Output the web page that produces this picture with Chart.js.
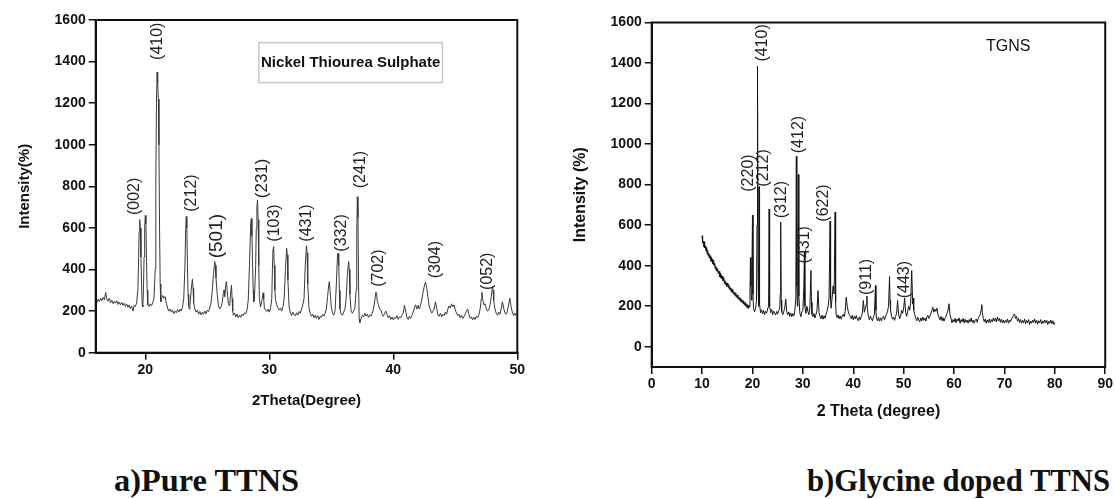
<!DOCTYPE html>
<html>
<head>
<meta charset="utf-8">
<script src="https://cdn.jsdelivr.net/npm/chart.js@4.4.1/dist/chart.umd.min.js"></script>
<style>
  html, body { margin: 0; padding: 0; background: #fff; }
  body { width: 1115px; height: 499px; position: relative; overflow: hidden; }
  .box { position: absolute; }
  #boxA { left: 0; top: 0; width: 560px; height: 420px; }
  #boxB { left: 560px; top: 0; width: 555px; height: 430px; }
  .cap { position: absolute; font-family: "Liberation Serif", "Times New Roman", serif; font-weight: bold;
         font-size: 31px; line-height: 31px; color: #111; white-space: nowrap; transform-origin: 0 0; }
</style>
</head>
<body>
<div class="box" id="boxA"><canvas id="chartA"></canvas></div>
<div class="box" id="boxB"><canvas id="chartB"></canvas></div>
<div class="cap" id="capA" style="left:114px; top:465px;">a)Pure TTNS</div>
<div class="cap" id="capB" style="left:807px; top:465px;">b)Glycine doped TTNS</div>

<script>
// ---- data: pure TTNS (2theta, intensity) ----
const pureTTNS = [
  [16.0,252],[16.1,240],[16.2,258],[16.3,246],[16.4,262],[16.5,250],[16.6,266],[16.7,255],[16.8,290],[16.9,258],
  [17.0,248],[17.1,262],[17.2,240],[17.3,252],[17.4,236],[17.5,248],[17.6,238],[17.7,250],[17.8,232],[17.9,244],
  [18.0,230],[18.1,242],[18.2,228],[18.3,238],[18.4,222],[18.5,234],[18.6,218],[18.7,230],[18.8,212],[18.9,224],
  [19.0,200],[19.1,228],[19.2,222],[19.3,240],[19.4,300],[19.45,420],[19.5,580],[19.55,640],[19.6,600],[19.65,460],
  [19.7,320],[19.75,230],[19.8,220],[19.85,300],[19.9,460],[19.95,600],[20.0,660],[20.05,620],[20.1,440],[20.15,300],
  [20.2,230],[20.3,222],[20.4,235],[20.5,226],[20.6,240],[20.7,262],[20.8,400],[20.85,800],[20.9,1200],[20.95,1350],
  [21.0,1300],[21.05,1220],[21.1,1000],[21.15,600],[21.2,330],[21.25,245],[21.3,260],[21.4,275],[21.5,262],[21.6,270],
  [21.7,238],[21.8,215],[21.9,200],[22.0,210],[22.1,195],[22.2,205],[22.3,188],[22.4,200],[22.5,192],[22.6,208],
  [22.7,195],[22.8,210],[22.9,200],[23.0,220],[23.1,260],[23.2,420],[23.25,580],[23.3,655],[23.35,600],[23.4,420],
  [23.45,280],[23.5,225],[23.55,210],[23.6,230],[23.7,300],[23.8,355],[23.85,310],[23.9,240],[24.0,210],[24.1,195],
  [24.2,205],[24.3,185],[24.4,198],[24.5,182],[24.6,195],[24.7,185],[24.8,200],[24.9,188],[25.0,205],[25.1,198],
  [25.2,215],[25.3,240],[25.4,300],[25.5,380],[25.6,438],[25.65,420],[25.7,360],[25.8,280],[25.9,225],[26.0,210],
  [26.1,220],[26.2,240],[26.3,290],[26.35,302],[26.4,270],[26.5,330],[26.55,342],[26.6,300],[26.7,235],[26.8,225],
  [26.9,300],[26.95,325],[27.0,260],[27.05,200],[27.1,180],[27.2,190],[27.3,172],[27.4,185],[27.5,168],[27.6,180],
  [27.7,170],[27.8,185],[27.9,178],[28.0,192],[28.1,188],[28.2,205],[28.3,250],[28.4,420],[28.5,620],[28.55,645],
  [28.6,560],[28.7,300],[28.75,245],[28.8,260],[28.9,420],[28.95,600],[29.0,700],[29.05,735],[29.1,640],[29.15,420],
  [29.2,260],[29.3,220],[29.4,250],[29.5,288],[29.55,260],[29.6,215],[29.7,205],[29.8,198],[29.9,210],[30.0,195],
  [30.1,215],[30.2,260],[30.25,400],[30.3,500],[30.35,510],[30.4,420],[30.45,300],[30.5,255],[30.6,230],[30.7,215],
  [30.8,205],[30.9,215],[31.0,200],[31.1,222],[31.2,260],[31.3,400],[31.4,502],[31.45,470],[31.5,350],[31.6,220],
  [31.7,190],[31.8,178],[31.9,195],[32.0,182],[32.1,178],[32.2,192],[32.3,180],[32.4,198],[32.5,190],[32.6,210],
  [32.7,230],[32.8,260],[32.9,420],[33.0,515],[33.05,480],[33.1,330],[33.2,215],[33.3,190],[33.4,175],[33.5,185],
  [33.6,168],[33.7,180],[33.8,165],[33.9,178],[34.0,160],[34.1,175],[34.2,170],[34.3,185],[34.4,176],[34.5,190],
  [34.6,210],[34.7,270],[34.8,330],[34.85,342],[34.9,300],[35.0,220],[35.1,190],[35.2,180],[35.3,200],[35.4,320],
  [35.5,470],[35.55,478],[35.6,420],[35.65,300],[35.7,210],[35.8,185],[35.9,180],[36.0,195],[36.1,210],[36.2,260],
  [36.3,380],[36.4,438],[36.45,400],[36.5,280],[36.6,200],[36.7,190],[36.8,200],[36.9,215],[37.0,300],[37.05,550],
  [37.1,750],[37.15,650],[37.2,320],[37.25,160],[37.3,145],[37.4,165],[37.5,180],[37.6,172],[37.7,190],[37.8,176],
  [37.9,185],[38.0,170],[38.1,182],[38.2,175],[38.3,190],[38.4,210],[38.5,250],[38.6,292],[38.65,285],[38.7,250],
  [38.8,230],[38.9,210],[39.0,205],[39.1,185],[39.2,175],[39.3,190],[39.4,200],[39.5,182],[39.6,168],[39.7,178],
  [39.8,160],[39.9,172],[40.0,158],[40.1,170],[40.2,165],[40.3,178],[40.4,160],[40.5,172],[40.6,168],[40.7,182],
  [40.8,190],[40.9,228],[41.0,200],[41.1,170],[41.2,160],[41.3,176],[41.4,165],[41.5,180],[41.6,195],[41.7,215],
  [41.8,230],[41.9,210],[42.0,228],[42.1,210],[42.2,230],[42.3,255],[42.4,290],[42.5,320],[42.6,340],[42.7,310],
  [42.8,265],[42.9,220],[43.0,205],[43.1,190],[43.2,200],[43.3,210],[43.4,245],[43.5,215],[43.6,180],[43.7,175],
  [43.8,190],[43.9,172],[44.0,185],[44.1,178],[44.2,195],[44.3,185],[44.4,210],[44.5,225],[44.6,215],[44.7,235],
  [44.8,220],[44.9,230],[45.0,205],[45.1,190],[45.2,178],[45.3,185],[45.4,168],[45.5,180],[45.6,165],[45.7,175],
  [45.8,185],[45.9,200],[46.0,210],[46.1,185],[46.2,165],[46.3,172],[46.4,158],[46.5,170],[46.6,160],[46.7,175],
  [46.8,168],[46.9,182],[47.0,210],[47.1,260],[47.15,290],[47.2,260],[47.3,230],[47.4,235],[47.5,210],[47.6,200],
  [47.7,205],[47.8,230],[47.9,270],[48.0,318],[48.05,300],[48.1,250],[48.2,210],[48.3,190],[48.4,180],[48.5,195],
  [48.6,185],[48.7,210],[48.8,245],[48.9,215],[49.0,190],[49.1,185],[49.2,200],[49.3,230],[49.4,262],[49.5,220],
  [49.6,195],[49.7,178],[49.8,190],[49.9,180],[50.0,188]
];

// ---- data: glycine doped TTNS (2theta, intensity) ----
const glycineTTNS = [
  [10.0,548],[10.1,512],[10.2,520],[10.3,495],[10.4,518],[10.5,488],[10.6,498],[10.7,480],[10.8,472],[10.9,490],
  [11.0,458],[11.1,476],[11.2,450],[11.3,462],[11.4,438],[11.5,455],[11.6,446],[11.7,425],[11.8,440],[11.9,418],
  [12.0,432],[12.1,410],[12.2,426],[12.3,404],[12.4,400],[12.5,412],[12.6,384],[12.7,398],[12.8,376],[12.9,390],
  [13.0,370],[13.1,384],[13.2,362],[13.3,360],[13.4,372],[13.5,346],[13.6,362],[13.7,340],[13.8,352],[13.9,336],
  [14.0,348],[14.1,326],[14.2,330],[14.3,342],[14.4,314],[14.5,328],[14.6,306],[14.7,320],[14.8,312],[14.9,298],
  [15.0,314],[15.1,300],[15.2,292],[15.3,306],[15.4,284],[15.5,296],[15.6,280],[15.7,290],[15.8,270],[15.9,286],
  [16.0,268],[16.1,282],[16.2,262],[16.3,270],[16.4,256],[16.5,268],[16.6,250],[16.7,264],[16.8,246],[16.9,254],
  [17.0,240],[17.1,256],[17.2,236],[17.3,244],[17.4,230],[17.5,242],[17.6,224],[17.7,238],[17.8,222],[17.9,230],
  [18.0,216],[18.1,230],[18.2,212],[18.3,222],[18.4,206],[18.5,220],[18.6,202],[18.7,214],[18.8,196],[18.9,210],
  [19.0,192],[19.1,206],[19.2,190],[19.3,204],[19.4,198],[19.5,260],[19.6,440],
  [19.7,300],[19.8,230],[19.9,400],[20.0,650],[20.1,260],[20.2,190],[20.4,172],[20.6,186],[20.8,230],[20.9,600],
  [21.0,1385],[21.1,400],[21.2,200],[21.3,790],[21.4,210],[21.6,168],[21.8,182],[22.0,162],[22.2,180],[22.4,158],
  [22.6,174],[22.8,166],[23.0,186],[23.2,200],[23.3,680],[23.4,200],[23.6,168],[23.8,184],[24.0,158],[24.2,176],
  [24.4,166],[24.6,156],[24.8,174],[25.0,162],[25.2,180],[25.4,186],[25.5,260],[25.6,615],[25.7,230],[25.8,172],
  [26.0,158],[26.2,174],[26.4,190],[26.6,235],[26.8,172],[27.0,158],[27.2,172],[27.4,150],[27.6,166],[27.8,148],
  [28.0,164],[28.2,152],[28.4,176],[28.6,240],[28.7,940],[28.8,300],[28.9,200],[29.0,320],[29.1,850],[29.2,250],
  [29.4,166],[29.6,148],[29.8,172],[30.0,180],[30.2,300],[30.3,470],[30.4,200],[30.6,164],[30.8,200],[31.0,174],
  [31.2,158],[31.4,200],[31.6,376],[31.7,220],[31.8,160],[32.0,148],[32.2,164],[32.4,142],[32.6,160],[32.8,180],
  [33.0,277],[33.2,170],[33.4,148],[33.6,138],[33.8,156],[34.0,136],[34.2,152],[34.4,140],[34.6,160],[34.8,175],
  [35.0,200],[35.2,240],[35.4,620],[35.5,230],[35.6,190],[35.8,240],[36.0,300],[36.2,260],[36.4,665],[36.5,220],
  [36.6,160],[36.8,143],[37.0,157],[37.2,138],[37.4,152],[37.6,136],[37.8,150],[38.0,160],[38.2,148],[38.4,175],
  [38.6,244],[38.8,200],[39.0,175],[39.2,158],[39.4,150],[39.6,138],[39.8,156],[40.0,133],[40.2,150],[40.4,138],
  [40.6,154],[40.8,136],[41.0,128],[41.2,147],[41.4,133],[41.6,150],[41.8,165],[42.0,228],[42.2,170],[42.4,190],
  [42.6,210],[42.7,250],[42.8,190],[43.0,150],[43.2,133],[43.4,152],[43.6,138],[43.8,128],[44.0,146],[44.2,160],
  [44.4,302],[44.5,180],[44.6,140],[44.8,128],[45.0,146],[45.2,126],[45.4,142],[45.6,128],[45.8,146],[46.0,150],
  [46.2,133],[46.4,150],[46.6,160],[46.8,175],[47.0,200],[47.2,346],[47.3,230],[47.4,180],[47.6,150],[47.8,136],
  [48.0,146],[48.2,130],[48.4,150],[48.6,165],[48.8,228],[49.0,160],[49.2,138],[49.4,152],[49.6,180],[49.8,165],
  [50.0,190],[50.2,240],[50.4,170],[50.6,150],[50.8,175],[51.0,200],[51.2,180],[51.4,220],[51.6,376],[51.8,210],
  [51.9,240],[52.0,180],[52.2,160],[52.4,140],[52.6,128],[52.8,146],[53.0,133],[53.2,123],[53.4,142],[53.6,128],
  [53.8,146],[54.0,130],[54.2,142],[54.4,126],[54.6,146],[54.8,155],[55.0,140],[55.2,150],[55.4,165],[55.6,180],
  [55.8,195],[56.0,170],[56.2,185],[56.4,175],[56.6,190],[56.8,160],[57.0,145],[57.2,133],[57.4,150],[57.6,128],
  [57.8,144],[58.0,126],[58.2,140],[58.4,150],[58.6,165],[58.8,180],[59.0,212],[59.2,160],[59.4,140],[59.6,118],
  [59.8,134],[60.0,123],[60.2,140],[60.4,118],[60.6,137],[60.8,126],[61.0,142],[61.2,116],[61.4,134],[61.6,123],
  [61.8,140],[62.0,118],[62.2,136],[62.4,120],[62.6,132],[62.8,116],[63.0,134],[63.2,123],[63.4,142],[63.6,120],
  [63.8,132],[64.0,116],[64.2,130],[64.4,137],[64.6,120],[64.8,140],[65.0,150],[65.2,160],[65.4,185],[65.5,208],
  [65.6,170],[65.8,140],[66.0,123],[66.2,137],[66.4,116],[66.6,132],[66.8,120],[67.0,137],[67.2,118],[67.4,134],
  [67.6,123],[67.8,142],[68.0,126],[68.2,140],[68.4,123],[68.6,147],[68.8,128],[69.0,140],[69.2,120],[69.4,136],
  [69.6,118],[69.8,132],[70.0,116],[70.2,130],[70.4,120],[70.6,137],[70.8,116],[71.0,132],[71.2,123],[71.4,140],
  [71.6,142],[71.8,155],[72.0,162],[72.2,140],[72.4,150],[72.6,126],[72.8,140],[73.0,120],[73.2,134],[73.4,116],
  [73.6,130],[73.8,118],[74.0,137],[74.2,113],[74.4,130],[74.6,118],[74.8,134],[75.0,110],[75.2,127],[75.4,116],
  [75.6,132],[75.8,120],[76.0,137],[76.2,116],[76.4,130],[76.6,112],[76.8,128],[77.0,118],[77.2,134],[77.4,113],
  [77.6,127],[77.8,116],[78.0,132],[78.2,118],[78.4,130],[78.6,110],[78.8,126],[79.0,116],[79.2,132],[79.4,113],
  [79.6,128],[79.8,110],[80.0,120]
];

// ---- axes ----
const xTicksA = [20, 30, 40, 50];
const yTicksA = [0, 200, 400, 600, 800, 1000, 1200, 1400, 1600];
const xTicksB = [0, 10, 20, 30, 40, 50, 60, 70, 80, 90];
const yTicksB = [0, 200, 400, 600, 800, 1000, 1200, 1400, 1600];

// ---- peak (hkl) labels: text, 2theta, intensity at label foot ----
const hklA = ['(002)', '(410)', '(212)', '(501)', '(231)', '(103)', '(431)', '(332)', '(241)', '(702)', '(304)', '(052)'];
const hklAx = [19.16, 20.97, 23.72, 25.73, 29.42, 30.42, 33.0, 35.86, 37.33, 38.83, 43.42, 47.59];
const hklAy = [662, 1408, 678, 454, 743, 534, 534, 486, 791, 317, 358, 302];
const hklB = ['(220)', '(410)', '(212)', '(312)', '(412)', '(431)', '(622)', '(911)', '(443)'];
const hklBx = [19.13, 21.94, 22.2, 25.74, 29.2, 30.36, 34.12, 42.64, 50.16];
const hklBy = [765, 1407, 790, 634, 955, 411, 617, 255, 239];

const FONT = '"Liberation Sans", Arial, sans-serif';
const INK = '#111';
const bigLabels = { '(501)': 19, '(231)': 17 };

// draws the frame, hkl labels and the note on top of the data
const decorPlugin = {
  id: 'decor',
  afterDatasetsDraw(chart, args, o) {
    const { ctx, chartArea: a, scales: { x, y } } = chart;
    ctx.save();
    ctx.strokeStyle = INK;
    ctx.lineWidth = 2;
    ctx.strokeRect(a.left, a.top, a.right - a.left, a.bottom - a.top);

    ctx.fillStyle = '#222';
    ctx.textAlign = 'left';
    ctx.textBaseline = 'middle';
    o.texts.forEach((t, i) => {
      const size = bigLabels[t] && o.big ? bigLabels[t] : 16;
      ctx.font = size + 'px ' + FONT;
      ctx.save();
      ctx.translate(x.getPixelForValue(o.xs[i]), y.getPixelForValue(o.ys[i]));
      ctx.rotate(-Math.PI / 2);
      ctx.fillText(t, 0, 0);
      ctx.restore();
    });

    const n = o.note;
    if (n.box) {
      const l = x.getPixelForValue(n.box[0]), r = x.getPixelForValue(n.box[1]);
      const t = y.getPixelForValue(n.box[2]), b = y.getPixelForValue(n.box[3]);
      ctx.strokeStyle = '#c8c8c8';
      ctx.lineWidth = 1.5;
      ctx.strokeRect(l, t, r - l, b - t);
    }
    ctx.fillStyle = INK;
    ctx.font = n.font;
    ctx.textAlign = 'center';
    ctx.fillText(n.text, x.getPixelForValue(n.x), y.getPixelForValue(n.y));
    ctx.restore();
  }
};

function scales(c) {
  const tickFont = { family: FONT, size: 14, weight: 'bold' };
  const titleFont = { family: FONT, size: c.titleSize, weight: 'bold' };
  return {
    x: {
      type: 'linear', min: c.xMin, max: c.xMax,
      afterBuildTicks: s => { s.ticks = c.xTicks.map(v => ({ value: v })); },
      afterFit: s => { s.height = c.xH; },
      ticks: { color: INK, font: tickFont, padding: 2, maxRotation: 0, autoSkip: false, callback: v => String(v) },
      grid: { drawOnChartArea: false, drawTicks: true, tickLength: 7, color: INK, lineWidth: 1.5 },
      border: { display: true, color: INK, width: 2 },
      title: { display: true, text: c.xTitle, color: INK, font: titleFont, padding: { top: 0, bottom: c.xTitlePad } }
    },
    y: {
      type: 'linear', min: c.yMin, max: c.yMax,
      afterBuildTicks: s => { s.ticks = c.yTicks.map(v => ({ value: v })); },
      afterFit: s => { s.width = c.yW; },
      ticks: { color: INK, font: tickFont, padding: 3, autoSkip: false, callback: v => String(v) },
      grid: { drawOnChartArea: false, drawTicks: true, tickLength: 7, color: INK, lineWidth: 1.5 },
      border: { display: true, color: INK, width: 2 },
      title: { display: true, text: c.yTitle, color: INK, font: titleFont, padding: { top: c.yTitlePad, bottom: 0 } }
    }
  };
}

function makeChart(id, c) {
  return new Chart(document.getElementById(id), {
    type: 'line',
    data: {
      datasets: [{
        data: c.points.map(p => ({ x: p[0], y: p[1] })),
        borderColor: c.lineColor, borderWidth: 1, pointRadius: 0, tension: 0, fill: false
      }]
    },
    options: {
      responsive: true, maintainAspectRatio: false, animation: false,
      layout: { padding: c.pad },
      scales: scales(c),
      plugins: {
        legend: { display: false }, tooltip: { enabled: false },
        decor: { texts: c.hkl, xs: c.hklX, ys: c.hklY, big: c.big, note: c.note }
      }
    },
    plugins: [decorPlugin]
  });
}

makeChart('chartA', {
  points: pureTTNS, lineColor: '#3a3a3a',
  xMin: 16, xMax: 50, yMin: 0, yMax: 1600, xTicks: xTicksA, yTicks: yTicksA,
  xTitle: '2Theta(Degree)', yTitle: 'Intensity(%)', titleSize: 15,
  pad: { top: 20, right: 42.7, left: 0, bottom: 0 }, yW: 95.7, xH: 67.3, xTitlePad: 10.5, yTitlePad: 15.5,
  hkl: hklA, hklX: hklAx, hklY: hklAy, big: true,
  note: { text: 'Nickel Thiourea Sulphate', x: 36.56, y: 1395, box: [29.16, 43.96, 1491, 1299],
          font: 'bold 15px ' + FONT }
});

makeChart('chartB', {
  points: glycineTTNS, lineColor: '#151515',
  xMin: 0, xMax: 90, yMin: -100, yMax: 1600, xTicks: xTicksB, yTicks: yTicksB,
  xTitle: '2 Theta (degree)', yTitle: 'Intensity (%)', titleSize: 16,
  pad: { top: 22.5, right: 9, left: 0, bottom: 0 }, yW: 91.7, xH: 63, xTitlePad: 9, yTitlePad: 10.5,
  hkl: hklB, hklX: hklBx, hklY: hklBy, big: false,
  note: { text: 'TGNS', x: 70.75, y: 1483, font: '16px ' + FONT }
});

// captions: the serif in the reference is a little narrower/wider than ours, so fit each to its width
[['capA', 185], ['capB', 303]].forEach(([id, w]) => {
  const el = document.getElementById(id);
  el.style.transform = 'scaleX(' + (w / el.offsetWidth) + ')';
});
</script>
</body>
</html>
